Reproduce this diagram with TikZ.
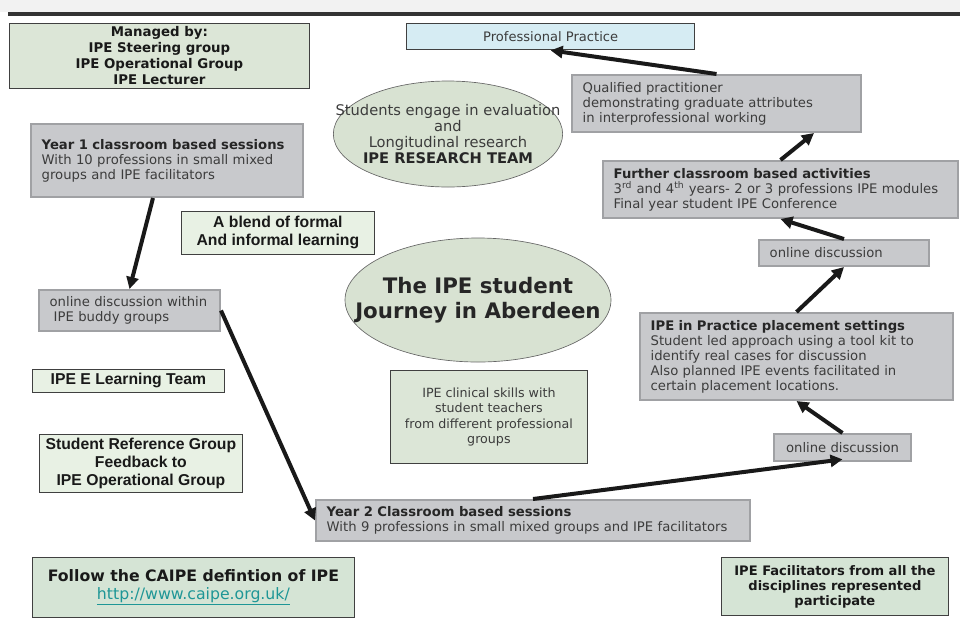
\documentclass[tikz,border=0pt]{standalone}
\usepackage{fontspec}
\setmainfont{DejaVu Sans}
\newfontfamily\arialfont{Liberation Sans}
\usepackage{xcolor}
\usetikzlibrary{arrows.meta,shapes.geometric}

\definecolor{boxgray}{RGB}{200,201,204}
\definecolor{edgegray}{RGB}{160,161,164}
\definecolor{sage}{RGB}{220,230,215}
\definecolor{palesage}{RGB}{232,241,228}
\definecolor{deepsage}{RGB}{213,228,213}
\definecolor{ovalsage}{RGB}{216,226,210}
\definecolor{paleblue}{RGB}{214,236,243}
\definecolor{linkteal}{RGB}{30,150,150}
\definecolor{bodygray}{RGB}{60,60,60}
\newcommand{\boxhead}[1]{{\color{black!85}\bfseries #1}}

\begin{document}
\begin{tikzpicture}[
    x=0.75pt, y=-0.75pt,
    gbox/.style={draw=edgegray, line width=1.5pt, fill=boxgray, anchor=north west, align=left, inner xsep=8pt, text=bodygray, font=\fontsize{9.9}{11.25}\selectfont},
    lbox/.style={draw=black!75, line width=0.6pt, fill=sage, anchor=north west, align=center, inner sep=0pt, text=black!90},
    abox/.style={lbox, fill=palesage, font=\arialfont\bfseries\fontsize{11.8}{13.5}\selectfont},
    oval/.style={ellipse, draw=black!60, line width=0.5pt, fill=ovalsage, inner sep=0pt},
    arr/.style={-{Triangle[length=9pt, width=9pt]}, line width=3pt, black!90}
]

\useasboundingbox (0,0) rectangle (960,619);
\fill[black!5] (0,0) rectangle (960,12);
\fill[black!80] (8,12) rectangle (960,16);

\node[lbox, minimum width=225pt, minimum height=48.75pt, font=\bfseries\fontsize{10}{12}\selectfont] (mg) at (9,23)
    {Managed by:\\IPE Steering group\\IPE Operational Group\\IPE Lecturer};
\node[lbox, fill=paleblue, line width=1pt, minimum width=216pt, minimum height=19.5pt, text=bodygray, font=\fontsize{9.8}{11}\selectfont] (pp) at (406,23)
    {Professional Practice};
\node[gbox, text width=200.75pt, minimum height=42.75pt] (qp) at (571,74)
    {Qualified practitioner\\demonstrating graduate attributes\\in interprofessional working};
\node[oval, minimum width=172pt, minimum height=79.5pt,
    label={[align=center, text=bodygray, font=\fontsize{11}{12}\selectfont]center:Students engage in evaluation\\and\\Longitudinal research\\\boxhead{IPE RESEARCH TEAM}}] (rs) at (448,134) {};
\node[gbox, text width=188pt, minimum height=54.75pt] (y1) at (30,123)
    {\boxhead{Year 1 classroom based sessions}\\With 10 professions in small mixed\\groups and IPE facilitators};
\node[abox, minimum width=144.75pt, minimum height=32.25pt] (bl) at (181,211)
    {A blend of formal\\And informal learning};
\node[gbox, text width=119.75pt, minimum height=30.75pt] (ob) at (38,289)
    {online discussion within\\\hspace*{3pt}IPE buddy groups};
\node[oval, minimum width=199.5pt, minimum height=93pt,
    label={[align=center, text=black!85, font=\bfseries\fontsize{16}{19}\selectfont]center:The IPE student\\Journey in Aberdeen}] (jr) at (478,300) {};
\node[lbox, minimum width=147.75pt, minimum height=69.75pt, text=bodygray, font=\fontsize{9.5}{11.5}\selectfont] (cs) at (390,370)
    {IPE clinical skills with\\student teachers\\from different professional\\groups};
\node[abox, minimum width=144pt, minimum height=17.25pt] (el) at (32,369)
    {IPE E Learning Team};
\node[abox, minimum width=152.25pt, minimum height=43.5pt] (sr) at (39,434)
    {Student Reference Group\\Feedback to\\IPE Operational Group};
\node[lbox, fill=deepsage, minimum width=241.5pt, minimum height=45pt, font=\fontsize{11.8}{13.5}\selectfont] (cp) at (32,557)
    {\textbf{Follow the CAIPE defintion of IPE}\\{\color{linkteal}\underline{http://www.caipe.org.uk/}}};
\node[gbox, text width=309.5pt, minimum height=30.75pt] (y2) at (315,499)
    {\boxhead{Year 2 Classroom based sessions}\\With 9 professions in small mixed groups and IPE facilitators};
\node[gbox, align=center, minimum width=102.75pt, minimum height=20.25pt] (od2) at (773,433)
    {online discussion};
\node[lbox, fill=deepsage, minimum width=170.25pt, minimum height=43.5pt, font=\bfseries\fontsize{9.8}{11.25}\selectfont] (fc) at (721,557)
    {IPE Facilitators from all the\\disciplines represented\\participate};
\node[gbox, text width=218.75pt, minimum height=65.25pt] (pr) at (639,312)
    {\boxhead{IPE in Practice placement settings}\\Student led approach using a tool kit to\\identify real cases for discussion\\Also planned IPE events facilitated in\\certain placement locations.};
\node[gbox, text width=111.5pt, minimum height=19.5pt] (od1) at (758,239)
    {online discussion};
\node[gbox, text width=250.25pt, minimum height=42.75pt] (fu) at (602,160)
    {\boxhead{Further classroom based activities}\\3\textsuperscript{rd} and 4\textsuperscript{th} years- 2 or 3 professions IPE modules\\Final year student IPE Conference};

\draw[arr] ([xshift=-10.5pt]y1.south) -- (ob.north);
\draw[arr] (ob.east) -- (y2.west);
\draw[arr] (y2.north) -- ([yshift=2pt]od2.south);
\draw[arr] (od2.north) -- (pr.south);
\draw[arr] (pr.north) -- (od1.south);
\draw[arr] (od1.north) -- (fu.south);
\draw[arr] (fu.north) -- ([xshift=-36pt]qp.south east);
\draw[arr] (qp.north) -- (pp.south);

\end{tikzpicture}
\end{document}
